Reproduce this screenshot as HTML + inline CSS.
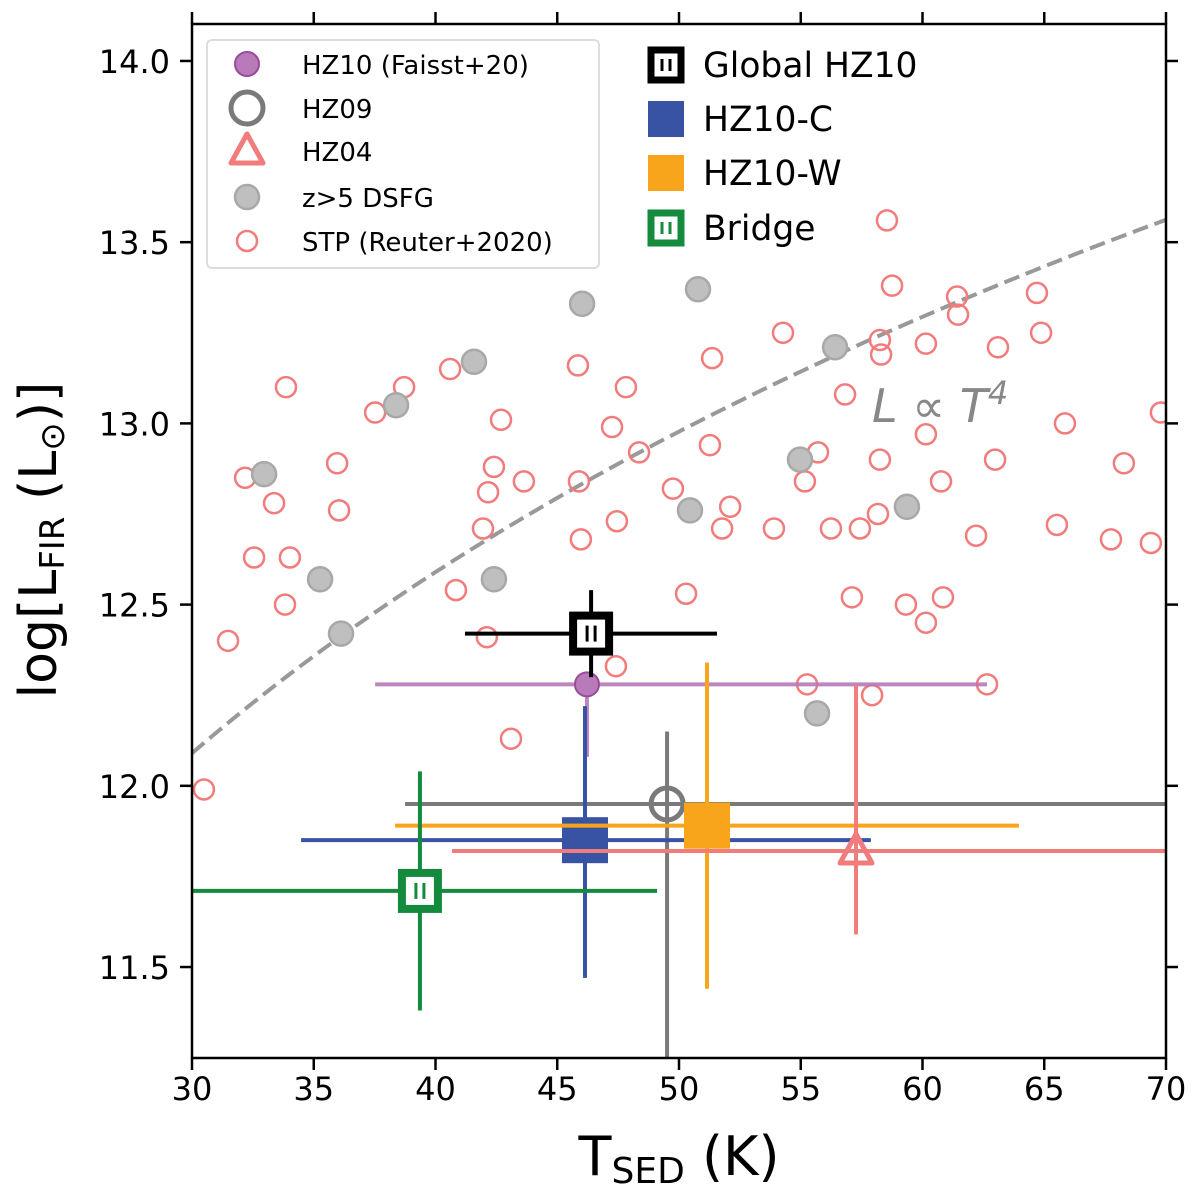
<!DOCTYPE html>
<html><head><meta charset="utf-8"><style>
html,body{margin:0;padding:0;background:#fff;}
svg{display:block;font-family:"DejaVu Sans","Liberation Sans",sans-serif;}
</style></head><body>
<svg id="chart" width="1200" height="1200" viewBox="0 0 1200 1200" xmlns="http://www.w3.org/2000/svg"></svg>
<script>
const xTicks=[30,35,40,45,50,55,60,65,70];
const yTicks=[11.5,12.0,12.5,13.0,13.5,14.0];
const stpX=[30.49,31.48,32.18,32.55,33.37,33.82,33.86,34.02,35.96,36.04,37.52,38.71,40.60,40.84,41.95,42.16,42.40,42.11,42.69,43.10,43.63,45.85,45.89,45.97,47.25,47.45,47.41,47.82,48.36,49.75,50.29,51.27,51.36,52.10,51.77,53.90,54.27,55.17,55.26,55.71,56.24,56.82,57.10,57.43,58.17,58.25,58.30,58.25,58.54,58.75,57.93,59.32,60.14,60.14,60.14,60.76,60.84,61.42,61.46,62.20,62.65,62.98,63.10,64.70,64.87,65.85,65.52,68.27,67.74,69.38,69.79];
const stpY=[11.99,12.40,12.85,12.63,12.78,12.50,13.10,12.63,12.89,12.76,13.03,13.10,13.15,12.54,12.71,12.81,12.88,12.41,13.01,12.13,12.84,13.16,12.84,12.68,12.99,12.73,12.33,13.10,12.92,12.82,12.53,12.94,13.18,12.77,12.71,12.71,13.25,12.84,12.28,12.92,12.71,13.08,12.52,12.71,12.75,12.90,13.19,13.23,13.56,13.38,12.25,12.50,12.45,13.22,12.97,12.84,12.52,13.35,13.30,12.69,12.28,12.90,13.21,13.36,13.25,13.00,12.72,12.89,12.68,12.67,13.03];
const dsfgX=[32.96,35.26,36.12,38.38,41.58,42.40,46.02,50.78,50.45,54.97,56.41,59.36,55.67];
const dsfgY=[12.86,12.57,12.42,13.05,13.17,12.57,13.33,13.37,12.76,12.90,13.21,12.77,12.20];
const ebNames=['hz10-faisst','hz09','hz10-c','hz10-w','hz04','bridge','global-hz10'];
const ebX=[46.22,49.51,46.14,51.15,57.27,39.36,46.39];
const ebY=[12.28,11.95,11.85,11.89,11.82,11.71,12.42];
const ebXlo=[37.52,38.75,34.48,38.34,40.68,30.0,41.21];
const ebXhi=[62.65,71,57.88,63.96,71,49.1,51.56];
const ebYlo=[12.08,11.2,11.47,11.44,11.59,11.38,12.30];
const ebYhi=[12.30,12.15,12.22,12.34,12.28,12.04,12.54];
const ebColor=['#b87ab8','#7a7a7a','#3953a4','#f9a51b','#f27b7b','#138a3c','#000'];

const svg=document.getElementById('chart');
const NS='http://www.w3.org/2000/svg';
const L=192,R=1166,T=24,B=1058;
const xmin=30,xmax=70,ymin=11.249,ymax=14.102;
const sx=v=>L+(v-xmin)/(xmax-xmin)*(R-L);
const sy=v=>B-(v-ymin)/(ymax-ymin)*(B-T);
function mk(tag,attrs,parent){const e=document.createElementNS(NS,tag);for(const k in attrs)e.setAttribute(k,attrs[k]);(parent||svg).appendChild(e);return e;}
const defs=mk('defs',{});
const cp=mk('clipPath',{id:'clip'},defs);mk('rect',{x:L,y:T,width:R-L,height:B-T},cp);
const plot=mk('g',{'clip-path':'url(#clip)'});



let d='';for(let i=0;i<=80;i++){const t=30+i*0.5;const y=12.09+4*Math.log10(t/30);d+=(i?'L':'M')+sx(t).toFixed(1)+','+sy(y).toFixed(1);}
const curve=mk('path',{d:d,fill:'none',stroke:'#999',"stroke-width":4,"stroke-dasharray":"16,7"},plot);



for(let i=0;i<stpX.length;i++){const c=mk('circle',{cx:sx(stpX[i]),cy:sy(stpY[i]),r:10,fill:'none',stroke:'#f27b7b',"stroke-width":2.5},plot);

}
for(let i=0;i<dsfgX.length;i++){const c=mk('circle',{cx:sx(dsfgX[i]),cy:sy(dsfgY[i]),r:12,fill:'#bfbfbf',stroke:'#a8a8a8',"stroke-width":2.5},plot);

}

for(let i=0;i<ebNames.length;i++){
 const g=mk('g',{},plot);
 
 
 const col=ebColor[i];const px=sx(ebX[i]),py=sy(ebY[i]);
 const op=(i===0)?0.9:1;
 mk('line',{x1:sx(ebXlo[i]),x2:sx(ebXhi[i]),y1:py,y2:py,stroke:col,"stroke-width":4,opacity:op},g);
 mk('line',{x1:px,x2:px,y1:sy(ebYlo[i]),y2:sy(ebYhi[i]),stroke:col,"stroke-width":4,opacity:op},g);
 const n=ebNames[i];
 if(n==='hz10-faisst')mk('circle',{cx:px,cy:py,r:12,fill:'#b87ab8',stroke:'#9a4c9a',"stroke-width":2},g);
 else if(n==='hz09')mk('circle',{cx:px,cy:py,r:16,fill:'none',stroke:'#7a7a7a',"stroke-width":5},g);
 else if(n==='hz04')mk('path',{d:`M${px},${py-17}L${px+16},${py+12}L${px-16},${py+12}Z`,fill:'none',stroke:'#f27b7b',"stroke-width":5,"stroke-linejoin":"round"},g);
 else if(n==='hz10-c'||n==='hz10-w')mk('rect',{x:px-23,y:py-23,width:46,height:46,fill:col},g);
 else {mk('rect',{x:px-18,y:py-18,width:36,height:36,fill:'#fff',stroke:col,"stroke-width":8},g);
   mk('line',{x1:px-4,x2:px-4,y1:py-8,y2:py+8,stroke:col,"stroke-width":3},g);mk('line',{x1:px+4,x2:px+4,y1:py-8,y2:py+8,stroke:col,"stroke-width":3},g);}
}
const lt=mk('text',{x:872,y:422,"font-size":46,fill:'#888',"font-style":"italic"});
lt.innerHTML='L ∝ T<tspan dy="-18" font-size="32">4</tspan>';



const ax=mk('g',{});


mk('rect',{x:L,y:T,width:R-L,height:B-T,fill:'none',stroke:'#000',"stroke-width":2.5},ax);
xTicks.forEach(v=>{const x=sx(v);
 mk('line',{x1:x,x2:x,y1:B,y2:B+12,stroke:'#000',"stroke-width":2.5},ax);
 mk('line',{x1:x,x2:x,y1:T,y2:T-12,stroke:'#000',"stroke-width":2.5},ax);
 const t=mk('text',{x:x,y:B+42,"font-size":32,"text-anchor":"middle"},ax);t.textContent=v;
 
 });
yTicks.forEach(v=>{const y=sy(v);
 mk('line',{x1:L,x2:L-12,y1:y,y2:y,stroke:'#000',"stroke-width":2.5},ax);
 mk('line',{x1:R,x2:R+12,y1:y,y2:y,stroke:'#000',"stroke-width":2.5},ax);
 const t=mk('text',{x:L-22,y:y+12,"font-size":32,"text-anchor":"end"},ax);t.textContent=v.toFixed(1);
 
 });
const xt=mk('text',{x:679,y:1175,"font-size":54,"text-anchor":"middle"});
xt.innerHTML='T<tspan font-size="36" dy="8">SED</tspan><tspan dy="-8"> (K)</tspan>';


const yt=mk('text',{x:0,y:0,"font-size":52,"text-anchor":"middle",transform:'translate(56,540) rotate(-90)'});
yt.innerHTML='log[L<tspan font-size="34" dy="8">FIR</tspan><tspan dy="-8"> (L</tspan><tspan font-size="34" dy="8">⊙</tspan><tspan dy="-8">)]</tspan>';



const lg=mk('g',{});


mk('rect',{x:207,y:40,width:392,height:228,rx:5,fill:'#fff',"fill-opacity":0.85,stroke:'#ddd',"stroke-width":2},lg);
const ly=[64,108,151,197,241];
const lnames=['HZ10 (Faisst+20)','HZ09','HZ04','z>5 DSFG','STP (Reuter+2020)'];
mk('circle',{cx:247,cy:ly[0],r:12,fill:'#b87ab8',stroke:'#9a4c9a',"stroke-width":2},lg);
mk('circle',{cx:247,cy:ly[1],r:16,fill:'none',stroke:'#7a7a7a',"stroke-width":5},lg);
mk('path',{d:`M247,${ly[2]-17}L263,${ly[2]+12}L231,${ly[2]+12}Z`,fill:'none',stroke:'#f27b7b',"stroke-width":5,"stroke-linejoin":"round"},lg);
mk('circle',{cx:247,cy:ly[3],r:12,fill:'#bfbfbf',stroke:'#a8a8a8',"stroke-width":2.5},lg);
mk('circle',{cx:247,cy:ly[4],r:10,fill:'none',stroke:'#f27b7b',"stroke-width":2.5},lg);
lnames.forEach((n,i)=>{const t=mk('text',{x:302,y:ly[i]+10,"font-size":26},lg);t.textContent=n;
 
 });
const lg2=mk('g',{});


const ry=[65,119,173,228];const rn=['Global HZ10','HZ10-C','HZ10-W','Bridge'];const rc=['#000','#3953a4','#f9a51b','#138a3c'];
ry.forEach((y,i)=>{
 if(i===1||i===2)mk('rect',{x:648,y:y-18,width:36,height:36,fill:rc[i]},lg2);
 else{mk('rect',{x:651,y:y-15,width:30,height:30,fill:'#fff',stroke:rc[i],"stroke-width":7},lg2);
  mk('line',{x1:662,x2:662,y1:y-6,y2:y+6,stroke:rc[i],"stroke-width":3},lg2);mk('line',{x1:670,x2:670,y1:y-6,y2:y+6,stroke:rc[i],"stroke-width":3},lg2);}
 const t=mk('text',{x:703,y:y+12,"font-size":34.5},lg2);t.textContent=rn[i];
 
 });
</script>
</body></html>
